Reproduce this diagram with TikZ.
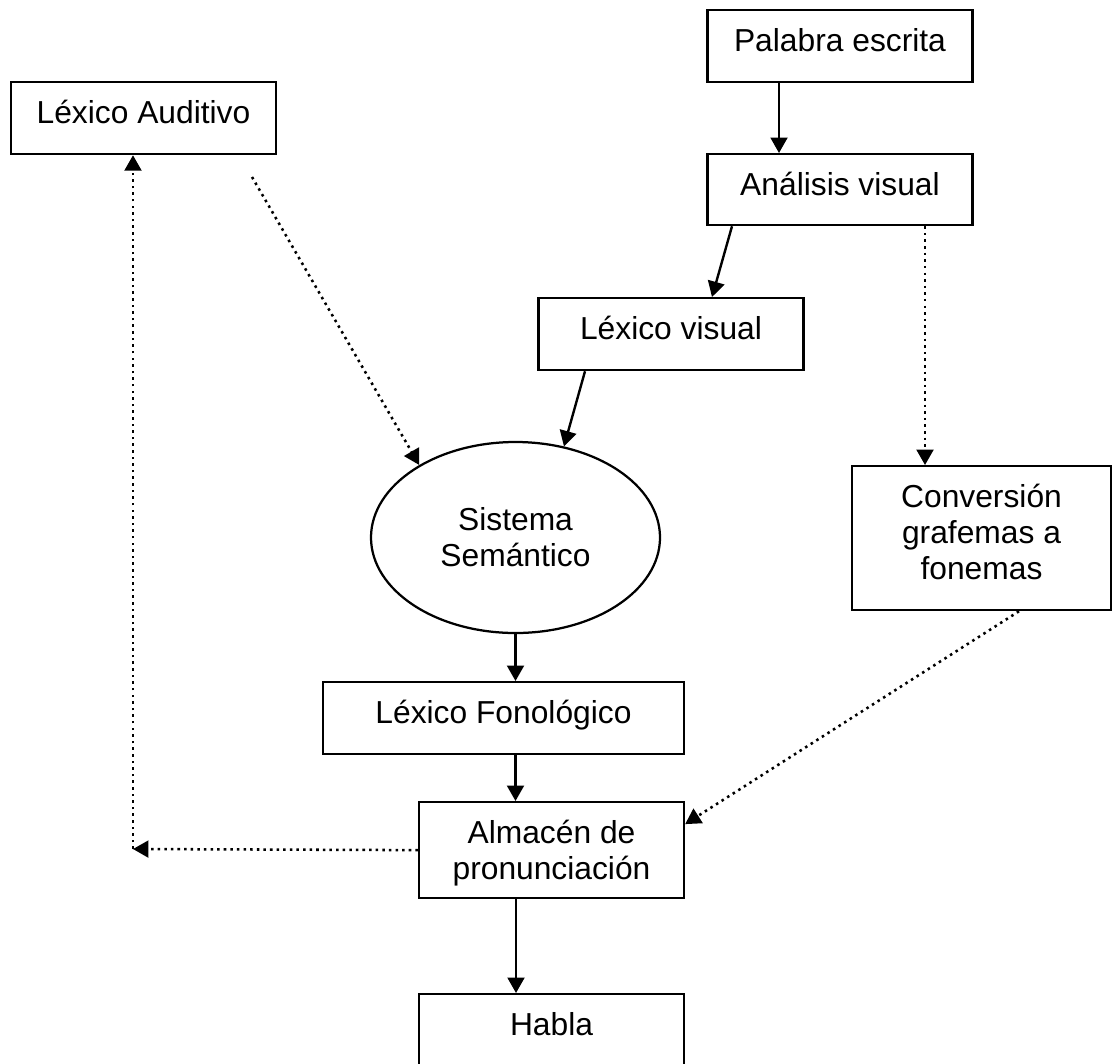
\documentclass[tikz,border=0pt]{standalone}
\usepackage{fontspec}
\setmainfont{Liberation Sans}
\usepackage{tikz}
\usetikzlibrary{shapes.geometric,arrows.meta}
\tikzset{
  box/.style={draw, line width=1.6pt, inner sep=0pt, anchor=north, align=center, minimum width=6.625cm, text height=1.025cm, text depth=#1},
  box/.default=0.775cm,
  link/.style={->, line width=1.7pt},
  dotlink/.style={->, line width=1.8pt, dash pattern=on 1.8pt off 2.9pt}
}

\begin{document}
\begin{tikzpicture}[>={Triangle[length=11pt,width=12pt]}, font=\fontsize{22.6pt}{25.6pt}\selectfont]
    \useasboundingbox (0,0) rectangle (27.8,-26.575);
    \node[box] (pal) at (21,-0.225) {Palabra escrita};
    \node[box=0.75cm] (ana) at (21,-3.825) {Análisis visual};
    \node[box] (aud) at (3.5875,-2.025) {Léxico Auditivo};
    \node[box] (lexv) at (16.775,-7.425) {Léxico visual};
    \node[draw, ellipse, line width=1.6pt, inner sep=0pt, minimum width=7.225cm, minimum height=4.775cm, align=center] (sem) at (12.8875,-13.4375)
      {Sistema\\Semántico};
    \node[box=0.775cm, text height=2.825cm, minimum width=6.475cm] (conv) at (24.5375,-11.625)
      {Conversión\\grafemas a\\fonemas};
    \node[box, minimum width=9.025cm] (fon) at (12.5875,-17.025) {Léxico Fonológico};
    \node[box=0.475cm, text height=1.925cm] (alm) at (13.7875,-20.025) {Almacén de\\pronunciación};
    \node[box=1.375cm] (hab) at (13.7875,-24.825) {Habla};
    \coordinate (audout) at (6.3,-4.425);
    \coordinate (anadrop) at ([xshift=2.125cm]ana.south);
    \coordinate (back) at (3.325,-21.225);

    \draw[link] ([xshift=-1.525cm]pal.south) -- ([xshift=-1.525cm]ana.north);
    \draw[link] ([xshift=-2.7cm]ana.south) -- ([xshift=1.025cm]lexv.north);
    \draw[link] ([xshift=-2.15cm]lexv.south) -- (sem.62);
    \draw[dotlink] (audout) -- (sem.143);
    \draw[dotlink] (anadrop) -- (anadrop |- conv.north);
    \draw[link] (sem.south) -- (sem.south |- fon.north);
    \draw[link] (sem.south |- fon.south) -- (sem.south |- alm.north);
    \draw[dotlink] ([xshift=0.9375cm]conv.south) -- ([yshift=0.65cm]alm.east);
    \draw[dotlink] (alm.west) -- (back);
    \draw[dotlink] (back) -- (back |- aud.south);
    \draw[link] ([xshift=-0.8875cm]alm.south) -- ([xshift=-0.8875cm]hab.north);
\end{tikzpicture}
\end{document}
